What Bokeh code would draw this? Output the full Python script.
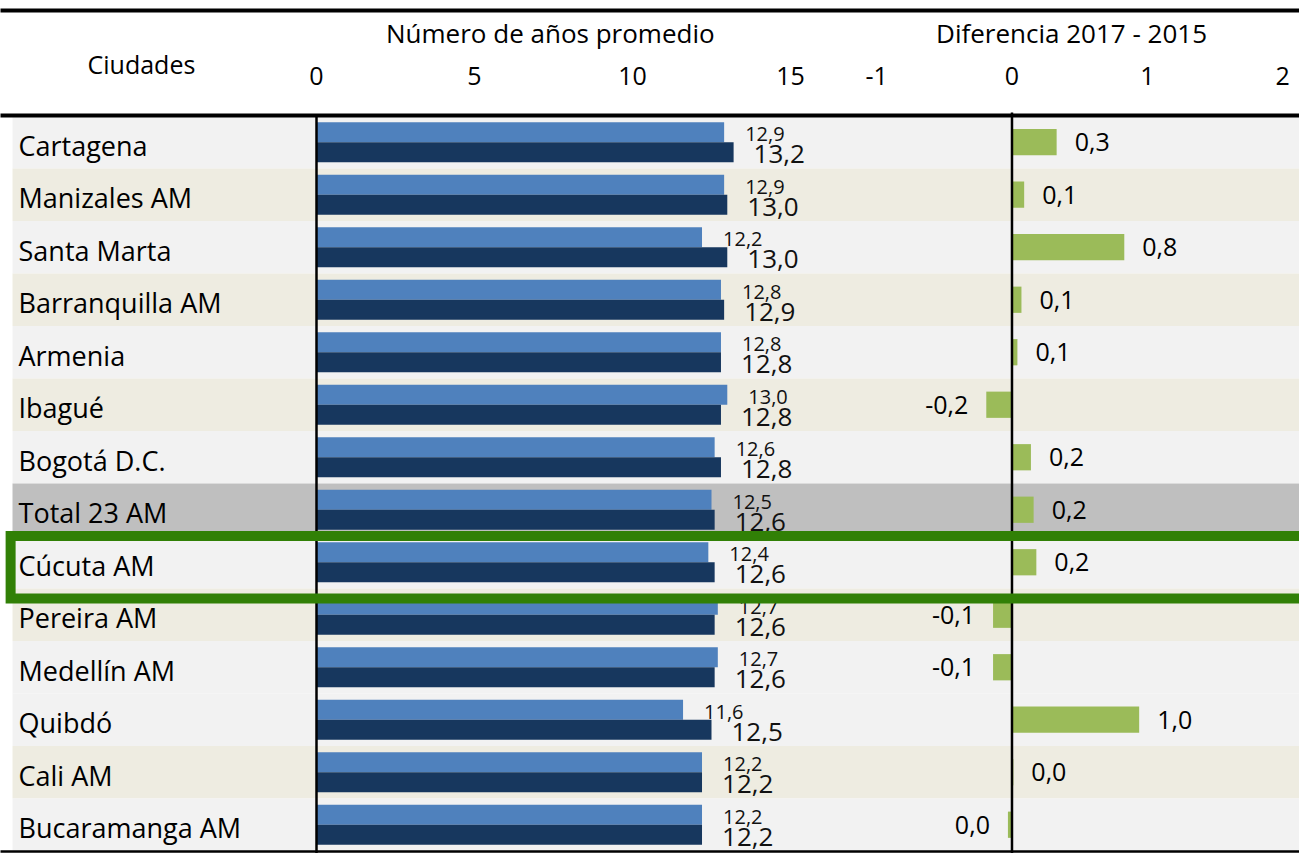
from bokeh.plotting import figure
from bokeh.models import Range1d, ColumnDataSource
from bokeh.core.properties import value
from bokeh.transform import dodge
from bokeh.embed import file_html
from bokeh.resources import INLINE

# ---------------- data ----------------
cities = ["Cartagena", "Manizales AM", "Santa Marta", "Barranquilla AM", "Armenia",
          "Ibagué", "Bogotá D.C.", "Total 23 AM", "Cúcuta AM", "Pereira AM",
          "Medellín AM", "Quibdó", "Cali AM", "Bucaramanga AM"]
v2015 = [12.9, 12.9, 12.2, 12.8, 12.8, 13.0, 12.6, 12.5, 12.4, 12.7, 12.7, 11.6, 12.2, 12.2]
v2017 = [13.2, 13.0, 13.0, 12.9, 12.8, 12.8, 12.8, 12.6, 12.6, 12.6, 12.6, 12.5, 12.2, 12.2]
diff = [0.33, 0.09, 0.83, 0.07, 0.04, -0.19, 0.14, 0.16, 0.18, -0.14, -0.14, 0.94, 0.01, -0.03]
diff_labels = ["0,3", "0,1", "0,8", "0,1", "0,1", "-0,2", "0,2", "0,2", "0,2",
               "-0,1", "-0,1", "1,0", "0,0", "0,0"]
main_ticks = [0, 5, 10, 15]
diff_ticks = [-1, 0, 1, 2]
header_main = "Número de años promedio"
header_diff = "Diferencia 2017 - 2015"
header_city = "Ciudades"
highlight_city = "Cúcuta AM"
total_city = "Total 23 AM"

# ---------------- styles ----------------
C_2015 = "#4f81bd"
C_2017 = "#17375e"
C_DIFF = "#9bbb59"
C_LIGHT = "#f2f2f2"
C_BEIGE = "#eeece1"
C_TOTAL = "#bfbfbf"
C_BOX = "#318006"
FONT = value("Open Sans")
beige_rows = {"Manizales AM", "Barranquilla AM", "Ibagué", "Pereira AM", "Cali AM"}
row_bg = [C_TOTAL if c == total_city else (C_BEIGE if c in beige_rows else C_LIGHT) for c in cities]

fmt = lambda v: f"{v:.1f}".replace(".", ",")

n = len(cities)
ys = [-i for i in range(n)]

src = ColumnDataSource(dict(
    y=ys, city=cities, v2015=v2015, v2017=v2017, diff=diff, bg=row_bg,
    l2015=[fmt(v) for v in v2015], l2017=[fmt(v) for v in v2017],
))

pos_idx = [i for i in range(n) if diff[i] >= 0]
neg_idx = [i for i in range(n) if diff[i] < 0]
src_pos = ColumnDataSource(dict(y=[ys[i] for i in pos_idx], d=[diff[i] for i in pos_idx],
                                t=[diff_labels[i] for i in pos_idx]))
src_neg = ColumnDataSource(dict(y=[ys[i] for i in neg_idx], d=[diff[i] for i in neg_idx],
                                t=[diff_labels[i] for i in neg_idx]))

# ---------------- figure ----------------
X0, X1 = -10.0, 31.108
Y0, Y1 = -13.548, 2.7
p = figure(width=1299, height=853, x_range=Range1d(X0, X1), y_range=Range1d(Y0, Y1),
           output_backend="svg", toolbar_location=None,
           x_axis_location=None, y_axis_location=None, min_border=0,
           background_fill_color="white", border_fill_color="white",
           outline_line_color=None)
p.extra_x_ranges = {"diff": Range1d(-7.476, 2.125)}
p.grid.visible = False

# row backgrounds
p.hbar(y="y", left=-9.62, right=X1 + 1, height=1.0, fill_color="bg", line_color=None, source=src)

# paired bars
p.hbar(y=dodge("y", 0.19), left=0, right="v2015", height=0.38, fill_color=C_2015,
       line_color=None, source=src)
p.hbar(y=dodge("y", -0.19), left=0, right="v2017", height=0.38, fill_color=C_2017,
       line_color=None, source=src)

# value labels
p.text(x="v2015", y=dodge("y", 0.19), text="l2015", x_offset=21, y_offset=2,
       text_font=FONT, text_font_size="20px", text_baseline="middle", text_align="left",
       text_color="#111111", source=src)
p.text(x="v2017", y=dodge("y", -0.19), text="l2017", x_offset=20, y_offset=2,
       text_font=FONT, text_font_size="26px", text_baseline="middle", text_align="left",
       text_color="#111111", source=src)

# difference bars
p.hbar(y="y", left=0, right="diff", height=0.5, fill_color=C_DIFF, line_color=None,
       source=src, x_range_name="diff")
p.text(x="d", y="y", text="t", x_offset=18, text_font=FONT, text_font_size="25px",
       text_baseline="middle", text_align="left", text_color="black",
       source=src_pos, x_range_name="diff")
p.text(x="d", y="y", text="t", x_offset=-18, text_font=FONT, text_font_size="25px",
       text_baseline="middle", text_align="right", text_color="black",
       source=src_neg, x_range_name="diff")

# city labels
p.text(x=-9.43, y="y", text="city", y_offset=3, text_font=FONT, text_font_size="27px",
       text_baseline="middle", text_align="left", text_color="black", source=src)

# axis lines
p.segment(x0=0, y0=0.509, x1=0, y1=Y0, line_color="black", line_width=2.5)
p.segment(x0=0, y0=0.567, x1=0, y1=Y0, line_color="black", line_width=2.5,
          x_range_name="diff")

# horizontal rules
p.segment(x0=X0 - 1, y0=2.51, x1=X1 + 1, y1=2.51, line_color="black", line_width=4)
p.segment(x0=X0 - 1, y0=0.509, x1=X1 + 1, y1=0.509, line_color="black", line_width=4)
p.segment(x0=X0 - 1, y0=-13.51, x1=X1 + 1, y1=-13.51, line_color="black", line_width=2.5)

# header texts
p.text(x=[7.4], y=[2.09], text=[header_main], text_font=FONT, text_font_size="26px",
       text_baseline="middle", text_align="center", text_color="black")
p.text(x=[0.44], y=[2.09], text=[header_diff], text_font=FONT, text_font_size="26px",
       text_baseline="middle", text_align="center", text_color="black", x_range_name="diff")
p.text(x=[-5.54], y=[1.481], text=[header_city], text_font=FONT, text_font_size="25px",
       text_baseline="middle", text_align="center", text_color="black")
p.text(x=main_ticks, y=[1.271] * len(main_ticks), text=[str(t) for t in main_ticks],
       text_font=FONT, text_font_size="25px", text_baseline="middle", text_align="center",
       text_color="black")
p.text(x=diff_ticks, y=[1.271] * len(diff_ticks), text=[str(t) for t in diff_ticks],
       text_font=FONT, text_font_size="25px", text_baseline="middle", text_align="center",
       text_color="black", x_range_name="diff")

# highlight box
hi = cities.index(highlight_city)
p.quad(left=-9.68, right=X1 + 2, top=ys[hi] + 0.5, bottom=ys[hi] - 0.69,
       fill_color=None, line_color=C_BOX, line_width=10, line_join="miter")

open("out.html", "w").write(file_html(p, INLINE))
